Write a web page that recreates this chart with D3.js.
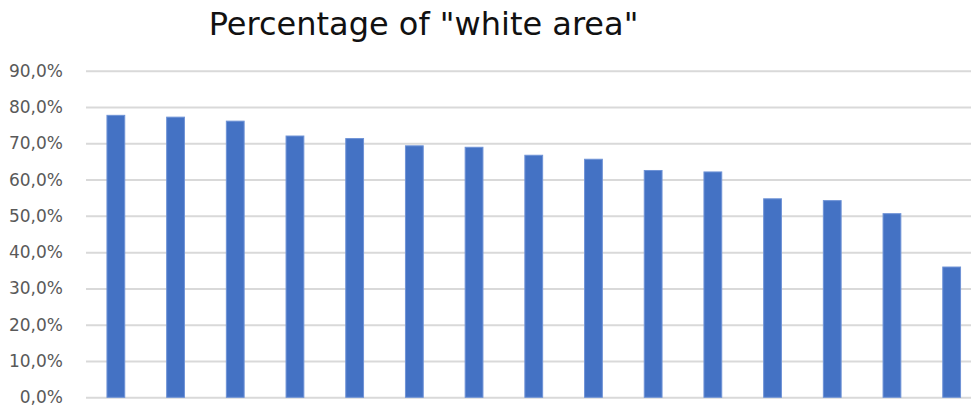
<!DOCTYPE html>
<html>
<head>
<meta charset="utf-8">
<script src="https://cdn.jsdelivr.net/npm/d3@7"></script>
<style>
  html, body { margin: 0; padding: 0; background: #fff; }
  svg { display: block; }
</style>
</head>
<body>
<svg id="chart" width="971" height="408"></svg>
<script>
// Share of "white area" per sample, sorted descending
const categories = ["1", "2", "3", "4", "5", "6", "7", "8", "9", "10", "11", "12", "13", "14", "15"];
const values = [0.777, 0.772, 0.761, 0.720, 0.713, 0.693, 0.689, 0.667, 0.656, 0.625, 0.621, 0.547, 0.542, 0.506, 0.359];
const yTicks = [0, 0.1, 0.2, 0.3, 0.4, 0.5, 0.6, 0.7, 0.8, 0.9];
const title = 'Percentage of "white area"';

const svg = d3.select("#chart");
const plot = { left: 86, right: 981.5, top: 70.7, bottom: 397.3 };

const x = d3.scaleBand()
  .domain(categories)
  .range([plot.left, plot.right])
  .paddingInner(0.702)
  .paddingOuter(0.351);

const y = d3.scaleLinear()
  .domain([0, 0.9])
  .range([plot.bottom, plot.top]);

const locale = d3.formatLocale({ decimal: ",", thousands: ".", grouping: [3], currency: ["", "€"] });
const pct = locale.format(".1%");

// Title
svg.append("text")
  .attr("x", 423.5)
  .attr("y", 35)
  .attr("text-anchor", "middle")
  .attr("font-family", "DejaVu Sans, sans-serif")
  .attr("font-size", 32)
  .attr("fill", "#111")
  .text(title);

// Gridlines and tick labels
const yAxis = d3.axisLeft(y)
  .tickValues(yTicks)
  .tickFormat(pct)
  .tickSize(-(plot.right - plot.left))
  .tickPadding(23);

const g = svg.append("g")
  .attr("transform", `translate(${plot.left},0)`)
  .call(yAxis);
g.select(".domain").remove();
g.selectAll(".tick line")
  .attr("stroke", "#d9d9d9")
  .attr("stroke-width", 2);
g.selectAll(".tick text")
  .attr("fill", "#595959")
  .attr("font-family", "DejaVu Sans, sans-serif")
  .attr("font-size", 17);

// Bars
svg.append("g")
  .selectAll("rect")
  .data(values)
  .join("rect")
  .attr("x", (d, i) => x(categories[i]))
  .attr("y", d => y(d))
  .attr("width", x.bandwidth())
  .attr("height", d => y(0) - y(d))
  .attr("fill", "#4472c4")
  .attr("stroke", "#6f93d6")
  .attr("stroke-width", 1);
</script>
</body>
</html>
